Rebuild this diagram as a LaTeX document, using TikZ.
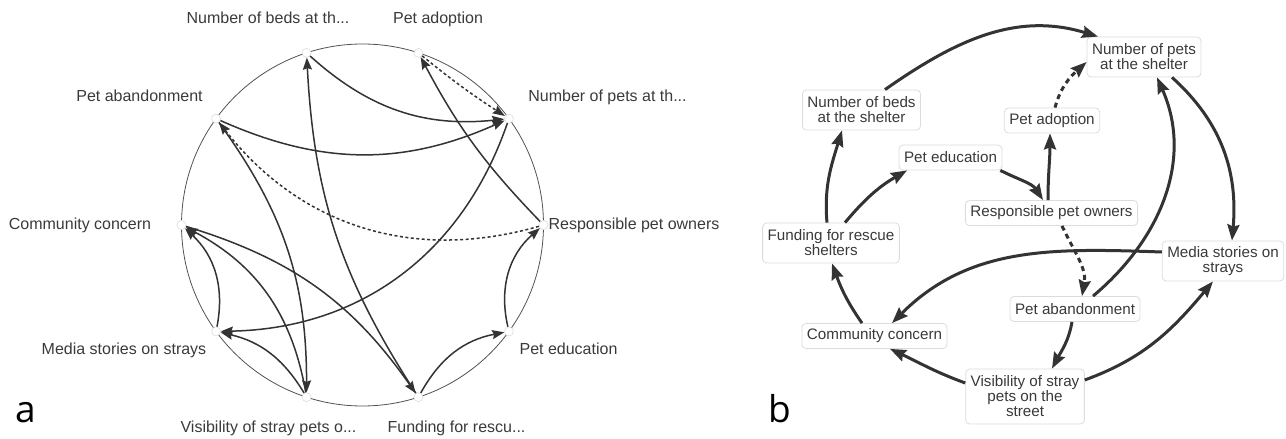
\documentclass[tikz,border=0pt]{standalone}
\usepackage{fontspec}
\setmainfont{Liberation Sans}
\newfontfamily\panelfont{Open Sans}
\usetikzlibrary{arrows.meta,calc}
\definecolor{ink}{HTML}{333333}
\definecolor{txt}{HTML}{3A3A3A}
\definecolor{boxline}{HTML}{DCDCDC}
\begin{document}
\begin{tikzpicture}[x=1pt,y=1pt,
  ptnode/.style={circle, draw=boxline, fill=white, line width=0.6pt, minimum size=9pt, inner sep=0pt},
  alab/.style={font=\fontsize{16}{18}\selectfont, text=txt, anchor=base, inner sep=0pt},
  aedge/.style={draw=ink, line width=1.5pt, -{Stealth[length=12pt,width=9pt,inset=1.5pt]}},
  adash/.style={aedge, dash pattern=on 3pt off 2.5pt},
  bbox/.style={draw=boxline, fill=white, rounded corners=4pt, line width=0.8pt, align=center,
    font=\fontsize{15.2}{15}\selectfont, text=txt, inner xsep=5pt, inner ysep=0pt, minimum height=25pt},
  bedge/.style={draw=ink, line width=3pt, -{Stealth[length=16pt,width=12pt,inset=2pt]}},
  bdash/.style={bedge, dash pattern=on 5pt off 4pt},
  plab/.style={font=\panelfont\fontsize{37}{40}\selectfont, anchor=base, inner sep=0pt, text=black}
]
\useasboundingbox (0,0) rectangle (1286,439);

% ---------------- panel a ----------------
\coordinate (O) at (362.5,214);
\draw[line width=0.8pt, draw=ink!85] (O) circle[radius=181];
\begin{scope}[shift={(362.5,214)}]
  \node[ptnode] (C)  at (180:181) {};
  \node[ptnode] (Ab) at (144:181) {};
  \node[ptnode] (B)  at (108:181) {};
  \node[ptnode] (A)  at (72:181) {};
  \node[ptnode] (P)  at (36:181) {};
  \node[ptnode] (R)  at (0:181) {};
  \node[ptnode] (E)  at (-36:181) {};
  \node[ptnode] (F)  at (-72:181) {};
  \node[ptnode] (V)  at (-108:181) {};
  \node[ptnode] (M)  at (-144:181) {};
\end{scope}

\node[alab] (lB)  at (268,415.5) {Number of beds at th...};
\node[alab] (lA)  at (438,415.5) {Pet adoption};
\node[alab] (lP)  at (607.5,337) {Number of pets at th...};
\node[alab] (lR)  at (634,209) {Responsible pet owners};
\node[alab] (lE)  at (568.5,84) {Pet education};
\node[alab] (lF)  at (456.5,6) {Funding for rescu...};
\node[alab] (lV)  at (268.5,6) {Visibility of stray pets o...};
\node[alab] (lM)  at (124,84) {Media stories on strays};
\node[alab] (lC)  at (80,209) {Community concern};
\node[alab] (lAb) at (139.5,337) {Pet abandonment};

\draw[aedge] (B) to[bend right=24] (P);
\draw[adash] (A) to[bend right=3] (P);
\draw[aedge] (R) to[bend left=8] (A);
\draw[aedge] (E) to[bend left=31] (R);
\draw[aedge] (F) to[bend left=25] (E);
\draw[aedge] (F) to[bend left=15] (B);
\draw[aedge] (C) to[bend left=19] (F);
\draw[adash] (R) to[bend left=34] (Ab);
\draw[aedge] (Ab) to[bend right=24] (P);
\draw[aedge] (P) to[bend left=35] (M);
\draw[aedge] (M) to[bend right=29] (C);
\draw[aedge] (Ab) to[bend left=18] (V);
\draw[aedge] (V) to[bend right=26] (C);
\draw[aedge] (V) to[bend right=23] (M);

\node[plab] (la) at (25.5,16) {a};

% ---------------- panel b ----------------
\node[bbox, minimum height=40pt] (nP) at (1144,382) {Number of pets\\at the shelter};
\node[bbox, minimum height=40pt] (nB) at (861.5,329) {Number of beds\\at the shelter};
\node[bbox] (nA) at (1052,318.5) {Pet adoption};
\node[bbox] (nE) at (950.5,281.5) {Pet education};
\node[bbox] (nR) at (1051.5,226) {Responsible pet owners};
\node[bbox, minimum height=40pt] (nF) at (831,196) {Funding for rescue\\shelters};
\node[bbox, minimum height=40pt] (nM) at (1223,178) {Media stories on\\strays};
\node[bbox] (nAb) at (1075,130) {Pet abandonment};
\node[bbox] (nC) at (874.5,103) {Community concern};
\node[bbox, minimum height=55pt] (nV) at (1025,42.5) {Visibility of stray\\pets on the\\street};

\draw[bedge] ([xshift=23.5pt]nB.north) to[out=35,in=163] ([xshift=-46pt]nP.north);
\draw[bdash] ([xshift=3pt]nA.north) to[out=75,in=222] ([yshift=-5pt]nP.west);
\draw[bedge] ([xshift=-3.5pt]nR.north) to[out=90,in=-90] ([xshift=-2pt]nA.south);
\draw[bedge] ([xshift=-2pt]nE.south east) to[out=-27,in=123] ([xshift=-8.5pt]nR.north);
\draw[bedge] ([xshift=14pt]nF.north) to[out=50,in=-150] ([xshift=-43.5pt]nE.south);
\draw[bedge] ([xshift=-4pt]nF.north) to[out=95,in=-107] ([xshift=-19.5pt]nB.south);
\draw[bedge] ([xshift=-12.5pt]nC.north) to[out=125,in=-70] ([xshift=1pt]nF.south);
\draw[bdash] ([xshift=10.5pt]nR.south) to[out=-65,in=80] ([xshift=7pt]nAb.north);
\draw[bedge] ([xshift=18pt]nAb.north) to[out=40,in=-66] ([xshift=13pt]nP.south);
\draw[bedge] ([xshift=28pt]nP.south) to[out=-42,in=85] ([xshift=9pt]nM.north);
\draw[bedge] ([yshift=9pt]nM.west) to[out=178,in=45] ([xshift=17.5pt]nC.north);
\draw[bedge] ([xshift=-3pt]nAb.south) to[out=-100,in=62] ([xshift=27pt]nV.north);
\draw[bedge] ([yshift=13.5pt]nV.west) to[out=160,in=-25] ([xshift=15.5pt]nC.south);
\draw[bedge] ([yshift=16.5pt]nV.east) to[out=20,in=-130] ([xshift=-10pt]nM.south);

\node[plab] (lb) at (780,16) {b};
\end{tikzpicture}
\end{document}
